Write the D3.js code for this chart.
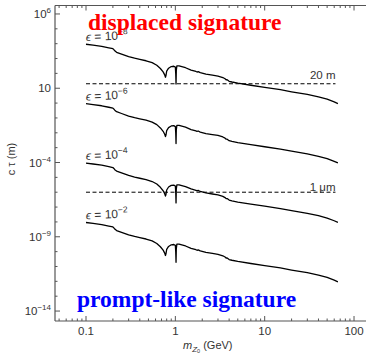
<!DOCTYPE html>
<html><head><meta charset="utf-8">
<script src="https://cdn.jsdelivr.net/npm/d3@7"></script>
<style>
html,body{margin:0;padding:0;background:#fff;}
svg{display:block;font-family:"Liberation Sans","DejaVu Sans",Arial,sans-serif;}
</style></head><body>
<svg id="c" width="366" height="356"></svg>
<script>
// mass (GeV)
const masses = [0.1,0.12,0.15,0.18,0.2,0.205,0.21,0.22,0.25,0.3,0.35,0.4,0.47,0.55,0.62,0.68,0.73,0.76,0.775,0.785,0.8,0.84,0.9,0.96,1.0,1.01,1.018,1.025,1.04,1.1,1.3,1.5,1.7,1.75,1.8,1.9,2.2,2.6,3.0,3.4,3.6,3.7,3.8,4.0,4.3,5,7,10,15,20,30,40,50,60,66];
// log10(c tau / m) for epsilon = 1e-8
const logCtauEps8 = [3.96,3.90,3.82,3.72,3.66,3.60,3.52,3.42,3.30,3.13,3.02,2.94,2.85,2.72,2.55,2.33,2.10,1.90,1.74,1.85,2.15,2.35,2.46,2.48,2.42,2.0,1.28,2.2,2.5,2.5,2.38,2.22,2.13,2.09,2.12,2.05,1.95,1.88,1.82,1.72,1.64,1.57,1.57,1.47,1.42,1.34,1.20,1.06,0.90,0.76,0.58,0.42,0.26,0.08,-0.03];
const epsilons = [1e-8, 1e-6, 1e-4, 1e-2];
const epsExponents = ["\u22128","\u22126","\u22124","\u22122"];
const refValues = [20, 1e-6];
const refLabels = ["20 m", "1 \u03bcm"];
const xTickValues = [0.1, 1, 10, 100];
const xTickLabels = ["0.1", "1", "10", "100"];
const yTickValues = [1e6, 10, 1e-4, 1e-9, 1e-14];
const yTickBase = ["10", "10", "10", "10", "10"];
const yTickExp = ["6", "", "\u22124", "\u22129", "\u221214"];

const svg = d3.select("#c");
const L = 55, R = 366, T = 5.5, B = 321;
const x = d3.scaleLog().domain([Math.pow(10,-1.347), Math.pow(10,2.134)]).range([L, R]);
const y = d3.scaleLog().domain([Math.pow(10,-14.67), Math.pow(10,6.57)]).range([B, T]);
const axisCol = "#555";

// frame lines: left, bottom, top
svg.append("line").attr("x1",L).attr("x2",L).attr("y1",T).attr("y2",B).attr("stroke",axisCol).attr("stroke-width",1.2);
svg.append("line").attr("x1",L).attr("x2",R).attr("y1",B).attr("y2",B).attr("stroke",axisCol).attr("stroke-width",1.2);
svg.append("line").attr("x1",L).attr("x2",R).attr("y1",T).attr("y2",T).attr("stroke",axisCol).attr("stroke-width",1.2);

// x ticks (bottom & top, inward)
const xMinor = [];
for (let e = -2; e <= 2; e++) for (let k = 1; k <= 9; k++) {
  const v = k * Math.pow(10, e);
  if (x(v) >= L && x(v) <= R) xMinor.push(v);
}
xMinor.forEach(v => {
  const major = xTickValues.some(t => Math.abs(t - v) / v < 1e-9);
  const len = major ? 5 : 2.5;
  svg.append("line").attr("x1",x(v)).attr("x2",x(v)).attr("y1",B).attr("y2",B-len).attr("stroke",axisCol).attr("stroke-width",1);
  svg.append("line").attr("x1",x(v)).attr("x2",x(v)).attr("y1",T).attr("y2",T+len).attr("stroke",axisCol).attr("stroke-width",1);
});
xTickValues.forEach((v,i) => {
  svg.append("text").attr("x",x(v)).attr("y",335).attr("text-anchor","middle")
    .attr("font-size",11.5).attr("fill","#333").text(xTickLabels[i]);
});

// y ticks (left, inward)
for (let e = -14; e <= 6; e++) {
  const v = Math.pow(10, e);
  const major = yTickValues.some(t => Math.abs(Math.log10(t) - e) < 1e-9);
  const len = major ? 5 : 2.5;
  svg.append("line").attr("x1",L).attr("x2",L+len).attr("y1",y(v)).attr("y2",y(v)).attr("stroke",axisCol).attr("stroke-width",1);
}
yTickValues.forEach((v,i) => {
  const t = svg.append("text").attr("x",51).attr("y",y(v)+4).attr("text-anchor","end")
    .attr("font-size",11.5).attr("fill","#333");
  t.append("tspan").text(yTickBase[i]);
  if (yTickExp[i]) t.append("tspan").attr("font-size",8).attr("dy",-5).text(yTickExp[i]);
});

// axis titles
svg.append("text").attr("transform","translate(15,159) rotate(-90)").attr("text-anchor","middle")
  .attr("font-size",11).attr("fill","#333").text("c \u03c4 (m)");
const xt = svg.append("text").attr("x",183).attr("y",349).attr("font-size",11).attr("fill","#333");
xt.append("tspan").attr("font-style","italic").text("m");
xt.append("tspan").attr("font-style","italic").attr("font-size",8).attr("dy",2.5).text("Z");
xt.append("tspan").attr("font-size",5.5).attr("dy",1.5).text("0");
xt.append("tspan").attr("dy",-4).text(" (GeV)");

// reference dashed lines
refValues.forEach((v,i) => {
  svg.append("line").attr("x1",x(0.1)).attr("x2",x(62)).attr("y1",y(v)).attr("y2",y(v))
    .attr("stroke","#000").attr("stroke-width",1).attr("stroke-dasharray","4,2.5");
  svg.append("text").attr("x",x(62)).attr("y",i===0 ? y(v)-5 : y(v)-1).attr("text-anchor","end")
    .attr("font-size",11.5).attr("fill","#333").text(refLabels[i]);
});

// curves
const line = d3.line().x(d => x(d[0])).y(d => y(d[1]));
epsilons.forEach((eps,i) => {
  const scale = Math.pow(1e-8 / eps, 2);
  const data = masses.map((m,j) => [m, Math.pow(10, logCtauEps8[j]) * scale]);
  svg.append("path").datum(data).attr("d", line).attr("fill","none")
    .attr("stroke","#000").attr("stroke-width",1.3).attr("stroke-linejoin","round");
  const lx = x(masses[0]), ly = y(data[0][1]) - 3;
  const t = svg.append("text").attr("transform",`translate(${lx},${ly}) rotate(-3)`)
    .attr("font-size",12).attr("fill","#333");
  t.append("tspan").attr("font-style","italic").text("\u03f5");
  t.append("tspan").text(" = 10");
  t.append("tspan").attr("font-size",8.5).attr("dy",-5).text(epsExponents[i]);
});

// region labels
svg.append("text").attr("x",88).attr("y",30).attr("font-family","'Liberation Serif','Times New Roman',serif")
  .attr("font-weight","bold").attr("font-size",23.5).attr("fill","#ff0000").text("displaced signature");
svg.append("text").attr("x",77).attr("y",307).attr("font-family","'Liberation Serif','Times New Roman',serif")
  .attr("font-weight","bold").attr("font-size",23.5).attr("fill","#0000ff").text("prompt-like signature");
</script>
</body></html>
